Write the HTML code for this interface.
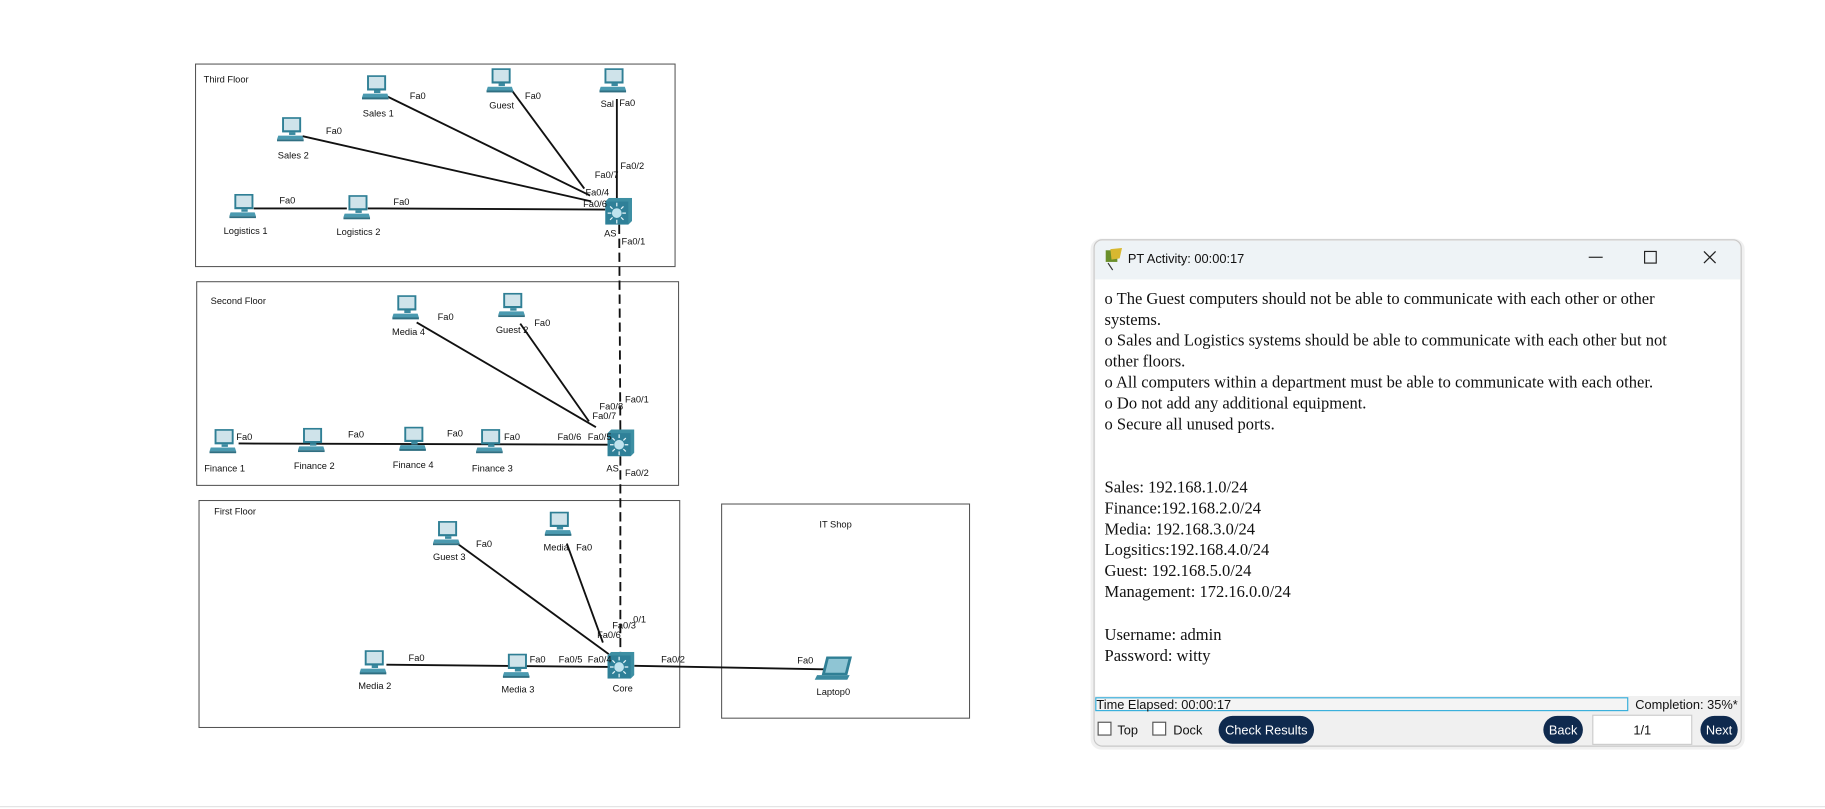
<!DOCTYPE html>
<html><head><meta charset="utf-8"><style>
html,body{margin:0;padding:0;background:#fff;}
svg{display:block}
.l{font-family:"Liberation Sans",sans-serif;font-size:8px;fill:#111}
.w{font-family:"Liberation Serif",serif;font-size:14.2px;fill:#111}
.s{font-family:"Liberation Sans",sans-serif;font-size:11px;fill:#111}
</style></head><body>
<svg width="1825" height="809" viewBox="0 0 1568 695" xmlns="http://www.w3.org/2000/svg">
<defs>
<symbol id="pc" viewBox="0 0 22 20">
<rect x="4" y="0.5" width="15" height="12" fill="#2f7f95" />
<rect x="5.5" y="1.8" width="12" height="9" fill="#cfe3ea"/>
<rect x="9.5" y="12.5" width="5" height="2" fill="#3b8aa0"/>
<polygon points="1,15 20,15 21,18 0,18" fill="#4b9ab0"/>
<rect x="0" y="18" width="21" height="1.5" fill="#2f6f82"/>
</symbol>
<symbol id="sw" viewBox="0 0 22 22">
<polygon points="0,3 3,0 22,0 22,19 19,22 0,22" fill="#3d8fa3"/>
<rect x="0" y="3" width="19" height="19" fill="#2f8098"/>
<circle cx="9.5" cy="12.5" r="4" fill="#bfe3ee"/>
<g stroke="#e8f6fa" stroke-width="1"><line x1="9.5" y1="4" x2="9.5" y2="7"/><line x1="9.5" y1="18" x2="9.5" y2="21"/><line x1="2" y1="12.5" x2="5" y2="12.5"/><line x1="14" y1="12.5" x2="17" y2="12.5"/><line x1="4" y1="7" x2="6" y2="9"/><line x1="15" y1="18" x2="13" y2="16"/><line x1="15" y1="7" x2="13" y2="9"/><line x1="4" y1="18" x2="6" y2="16"/></g>
</symbol>
</defs>
<g fill="none" stroke="#555" stroke-width="0.9">
<rect x="168" y="55" width="412" height="174"/>
<rect x="169" y="242" width="414" height="175"/>
<rect x="171" y="430" width="413" height="195"/>
<rect x="620" y="433" width="213" height="184"/>
</g>
<line x1="0" y1="693" x2="1568" y2="693" stroke="#e4e4e4" stroke-width="1"/>
<text class="l" x="175" y="71">Third Floor</text>
<text class="l" x="181" y="261">Second Floor</text>
<text class="l" x="184" y="442">First Floor</text>
<text class="l" x="704" y="453">IT Shop</text>
<g stroke="#111" stroke-width="1.6" fill="none">
<line x1="333" y1="83" x2="507" y2="168"/>
<line x1="440" y1="78" x2="502" y2="162"/>
<line x1="530" y1="85" x2="530" y2="172"/>
<line x1="260" y1="117" x2="508" y2="173"/>
<line x1="218" y1="179" x2="298" y2="179"/>
<line x1="316" y1="179" x2="520" y2="180"/>
<line x1="358" y1="277" x2="512" y2="367"/>
<line x1="447" y1="278" x2="506" y2="362"/>
<line x1="205" y1="381" x2="522" y2="382"/>
<line x1="393" y1="467" x2="523" y2="562"/>
<line x1="487" y1="467" x2="518" y2="552"/>
<line x1="332" y1="571" x2="524" y2="573"/>
<line x1="545" y1="572" x2="708" y2="575"/>
<line x1="532" y1="193" x2="533" y2="370" stroke-dasharray="8,4"/>
<line x1="533" y1="392" x2="533" y2="562" stroke-dasharray="8,4"/>
</g>
<g>
<use href="#pc" x="311" y="64" width="24" height="22"/>
<use href="#pc" x="418" y="58" width="24" height="22"/>
<use href="#pc" x="515" y="58" width="24" height="22"/>
<use href="#pc" x="238" y="100" width="24" height="22"/>
<use href="#pc" x="197" y="166" width="24" height="22"/>
<use href="#pc" x="295" y="167" width="24" height="22"/>
<use href="#pc" x="337" y="253" width="24" height="22"/>
<use href="#pc" x="428" y="251" width="24" height="22"/>
<use href="#pc" x="180" y="368" width="24" height="22"/>
<use href="#pc" x="256" y="367" width="24" height="22"/>
<use href="#pc" x="343" y="366" width="24" height="22"/>
<use href="#pc" x="409" y="368" width="24" height="22"/>
<use href="#pc" x="372" y="447" width="24" height="22"/>
<use href="#pc" x="468" y="439" width="24" height="22"/>
<use href="#pc" x="309" y="558" width="24" height="22"/>
<use href="#pc" x="432" y="561" width="24" height="22"/>
</g>
<use href="#sw" x="520" y="170" width="23" height="23"/>
<use href="#sw" x="522" y="369" width="23" height="23"/>
<use href="#sw" x="522" y="560" width="23" height="23"/>
<g>
<polygon points="710,564 732,564 728,580 706,580" fill="#2f7f95"/>
<polygon points="712,566 729,566 726,578 709,578" fill="#8fc5d4"/>
<polygon points="702,580 730,580 728,584 700,584" fill="#3b8aa0"/>
</g>
<g class="l" text-anchor="middle">
<text x="325" y="100">Sales 1</text>
<text x="431" y="93">Guest</text>
<text x="252" y="136">Sales 2</text>
<text x="211" y="201">Logistics 1</text>
<text x="308" y="202">Logistics 2</text>
<text x="351" y="288">Media 4</text>
<text x="440" y="286">Guest 2</text>
<text x="193" y="405">Finance 1</text>
<text x="270" y="403">Finance 2</text>
<text x="355" y="402">Finance 4</text>
<text x="423" y="405">Finance 3</text>
<text x="386" y="481">Guest 3</text>
<text x="322" y="592">Media 2</text>
<text x="445" y="595">Media 3</text>
<text x="535" y="594">Core</text>
<text x="716" y="597">Laptop0</text>
</g>
<g class="l">
<text x="516" y="92">Sal</text><text x="532" y="91">Fa0</text>
<text x="519" y="203">AS</text><text x="534" y="210">Fa0/1</text>
<text x="521" y="405">AS</text><text x="537" y="409">Fa0/2</text>
<text x="467" y="473">Media</text><text x="495" y="473">Fa0</text>
<text x="352" y="85">Fa0</text><text x="451" y="85">Fa0</text><text x="280" y="115">Fa0</text>
<text x="240" y="175">Fa0</text><text x="338" y="176">Fa0</text>
<text x="533" y="145">Fa0/2</text><text x="511" y="153">Fa0/7</text>
<text x="503" y="168">Fa0/4</text><text x="501" y="178">Fa0/6</text>
<text x="376" y="275">Fa0</text><text x="459" y="280">Fa0</text>
<text x="203" y="378">Fa0</text><text x="299" y="376">Fa0</text><text x="384" y="375">Fa0</text><text x="433" y="378">Fa0</text>
<text x="479" y="378">Fa0/6</text><text x="505" y="378">Fa0/5</text>
<text x="515" y="352">Fa0/8</text><text x="509" y="360">Fa0/7</text><text x="537" y="346">Fa0/1</text>
<text x="409" y="470">Fa0</text><text x="351" y="568">Fa0</text><text x="455" y="569">Fa0</text><text x="685" y="570">Fa0</text>
<text x="480" y="569">Fa0/5</text><text x="505" y="569">Fa0/4</text><text x="568" y="569">Fa0/2</text>
<text x="526" y="540">Fa0/3</text><text x="513" y="548">Fa0/6</text><text x="544" y="535">0/1</text>
</g>
<rect x="937" y="205" width="562" height="439" rx="9" fill="#000" opacity="0.06"/>
<rect x="940" y="206" width="556" height="435" rx="7" fill="#f0f0f0" stroke="#c8c8c8"/>
<path d="M941,240 V213 a6,6 0 0 1 6,-6 H1489 a6,6 0 0 1 6,6 V240 Z" fill="#eef3f6"/>
<rect x="941" y="240" width="554" height="358" fill="#fff"/>
<g><rect x="950" y="215" width="10" height="10" fill="#6a8f2a"/><polygon points="954,214 964,213 962,222 955,223" fill="#d8b830"/><line x1="952" y1="226" x2="956" y2="232" stroke="#333"/></g>
<text class="s" x="969" y="226" font-size="12">PT Activity: 00:00:17</text>
<line x1="1365" y1="221" x2="1377" y2="221" stroke="#222" stroke-width="1"/>
<rect x="1413" y="216" width="10" height="10" fill="none" stroke="#222" stroke-width="1"/>
<path d="M1464,216 L1474,226 M1474,216 L1464,226" stroke="#222" stroke-width="1.1"/>
<g class="w">
<text x="949" y="261">o The Guest computers should not be able to communicate with each other or other</text>
<text x="949" y="279">systems.</text>
<text x="949" y="297">o Sales and Logistics systems should be able to communicate with each other but not</text>
<text x="949" y="315">other floors.</text>
<text x="949" y="333">o All computers within a department must be able to communicate with each other.</text>
<text x="949" y="351">o Do not add any additional equipment.</text>
<text x="949" y="369">o Secure all unused ports.</text>
<text x="949" y="423">Sales: 192.168.1.0/24</text>
<text x="949" y="441">Finance:192.168.2.0/24</text>
<text x="949" y="459">Media: 192.168.3.0/24</text>
<text x="949" y="477">Logsitics:192.168.4.0/24</text>
<text x="949" y="495">Guest: 192.168.5.0/24</text>
<text x="949" y="513">Management: 172.16.0.0/24</text>
<text x="949" y="550">Username: admin</text>
<text x="949" y="568">Password: witty</text>
</g>
<rect x="941.5" y="599.5" width="457" height="11" fill="#f4f4f4" stroke="#35aedb"/>
<text class="s" x="942" y="609" font-size="10.5">Time Elapsed: 00:00:17</text>
<text class="s" x="1405" y="609" font-size="10.5">Completion: 35%*</text>
<rect x="943.5" y="620.5" width="11" height="11" fill="#fff" stroke="#555"/>
<text class="s" x="960" y="631">Top</text>
<rect x="990.5" y="620.5" width="11" height="11" fill="#fff" stroke="#555"/>
<text class="s" x="1008" y="631">Dock</text>
<rect x="1047" y="615" width="82" height="24" rx="12" fill="#0f2a4e"/>
<text class="s" x="1088" y="631" text-anchor="middle" style="fill:#fff">Check Results</text>
<rect x="1326" y="615" width="34" height="24" rx="12" fill="#0f2a4e"/>
<text class="s" x="1343" y="631" text-anchor="middle" style="fill:#fff">Back</text>
<rect x="1368.5" y="614.5" width="85" height="25" fill="#fff" stroke="#ccc"/>
<text class="s" x="1411" y="631" text-anchor="middle">1/1</text>
<rect x="1461" y="615" width="32" height="24" rx="12" fill="#0f2a4e"/>
<text class="s" x="1477" y="631" text-anchor="middle" style="fill:#fff">Next</text>
</svg>
</body></html>
